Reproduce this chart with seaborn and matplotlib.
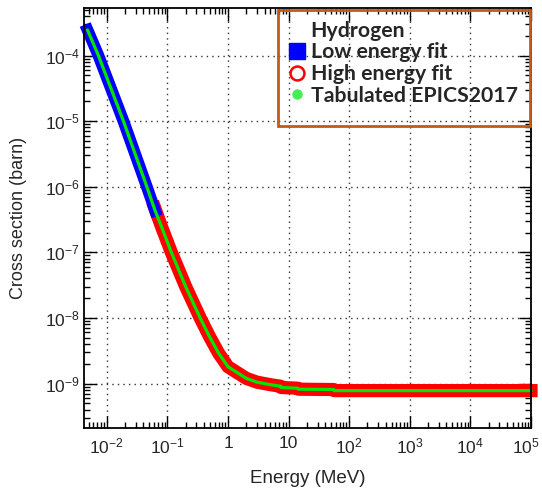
import numpy as np
import pandas as pd
import matplotlib
matplotlib.use('Agg')
import matplotlib.pyplot as plt
import seaborn as sns
from matplotlib.lines import Line2D
from matplotlib.patches import Rectangle
from matplotlib.transforms import ScaledTranslation
from matplotlib.ticker import FixedLocator, FixedFormatter, LogLocator, NullFormatter

# 低能拟合（蓝色方块）
low_energy = [4.8e-3, 7.26e-3, 0.0188, 0.0457, 0.0627]
low_xs = [2.45e-4, 1.0e-4, 1.0e-5, 1.0e-6, 4.3e-7]

# 高能拟合（红色空心圆）
high_energy = [0.062, 0.080, 0.116, 0.20, 0.347, 0.50, 0.70, 1.0, 2.0, 3.0,
               5.0, 7.4, 7.5, 14.0, 14.5, 56.0, 57.0, 1.0e5]
high_xs = [4.7e-7, 2.45e-7, 1.0e-7, 3.0e-8, 1.0e-8, 5.1e-9, 2.9e-9, 1.8e-9,
           1.2e-9, 1.05e-9, 9.6e-10, 9.1e-10, 8.7e-10, 8.5e-10, 8.2e-10,
           8.1e-10, 7.8e-10, 7.8e-10]

# 刻度标签
x_ticks = [1e-2, 1e-1, 1, 10, 1e2, 1e3, 1e4, 1e5]
x_ticklabels = ['$10^{-2}$', '$10^{-1}$', '1', '10', '$10^{2}$', '$10^{3}$', '$10^{4}$', '$10^{5}$']
y_ticks = [1e-9, 1e-8, 1e-7, 1e-6, 1e-5, 1e-4]
y_ticklabels = ['$10^{-9}$', '$10^{-8}$', '$10^{-7}$', '$10^{-6}$', '$10^{-5}$', '$10^{-4}$']

legend_labels = ['Hydrogen', 'Low energy fit', 'High energy fit', 'Tabulated EPICS2017']

low_df = pd.DataFrame({'E': low_energy, 'xs': low_xs})
high_df = pd.DataFrame({'E': high_energy, 'xs': high_xs})
tab_df = pd.concat([low_df, high_df.iloc[1:]], ignore_index=True)

sns.set_style('ticks')
plt.rcParams['font.family'] = ['Liberation Sans', 'DejaVu Sans']
plt.rcParams['mathtext.fontset'] = 'custom'
plt.rcParams['mathtext.rm'] = 'Liberation Sans'
plt.rcParams['mathtext.it'] = 'Liberation Sans:italic'
plt.rcParams['mathtext.bf'] = 'Liberation Sans:bold'

fig = plt.figure(figsize=(5.42, 4.91), dpi=100)
ax = fig.add_axes([84 / 542, 1 - 428 / 491, 447 / 542, 420 / 491])

# 先画红色，再画蓝色（重叠处蓝色在上），最后绿色
sns.lineplot(data=high_df, x='E', y='xs', ax=ax, sort=False, color='#ff0000',
             linewidth=9.5, solid_capstyle='projecting', clip_on=False)
sns.lineplot(data=low_df, x='E', y='xs', ax=ax, sort=False, color='#0000ff',
             linewidth=8.5, solid_capstyle='projecting', clip_on=False)
sns.lineplot(data=tab_df, x='E', y='xs', ax=ax, sort=False, color='#00e600',
             linewidth=2.3, clip_on=False)

ax.set_xscale('log')
ax.set_yscale('log')
ax.set_xlim(4.2e-3, 1e5)
ax.set_ylim(2.1e-10, 5.3e-4)

ax.xaxis.set_major_locator(FixedLocator(x_ticks))
ax.xaxis.set_major_formatter(FixedFormatter(x_ticklabels))
ax.yaxis.set_major_locator(FixedLocator(y_ticks))
ax.yaxis.set_major_formatter(FixedFormatter(y_ticklabels))
for axis in (ax.xaxis, ax.yaxis):
    axis.set_minor_locator(LogLocator(base=10, subs=np.arange(2, 10), numticks=30))
    axis.set_minor_formatter(NullFormatter())

ax.tick_params(which='both', direction='in', top=True, right=True, color='black', width=1)
ax.tick_params(which='major', length=9, labelsize=12.5)
ax.tick_params(which='minor', length=4.5)
ax.tick_params(axis='x', which='major', pad=6)
ax.tick_params(axis='y', which='major', pad=3)
for sp in ax.spines.values():
    sp.set_linewidth(1.3)
    sp.set_color('black')

ax.grid(True, which='major', color='#333333', linestyle=(0, (1, 3)), linewidth=1)

ax.set_xlabel('Energy (MeV)', fontsize=13.5, labelpad=10)
ax.set_ylabel('Cross section (barn)', fontsize=13, labelpad=13)

# 最右侧刻度标签稍向左移，避免被图边裁掉
fig.canvas.draw()
last = ax.xaxis.get_major_ticks()[-1].label1
last.set_transform(last.get_transform() + ScaledTranslation(-5 / 100, 0, fig.dpi_scale_trans))

handles = [
    Line2D([], [], linestyle='none'),
    Line2D([], [], linestyle='none', marker='s', markersize=11, color='#0000ff'),
    Line2D([], [], linestyle='none', marker='o', markersize=10, markerfacecolor='white',
           markeredgecolor='#ff0000', markeredgewidth=1.8),
    Line2D([], [], linestyle='none', marker='o', markersize=6.5, color='#44ee55'),
]
leg = ax.legend(handles, legend_labels, loc='upper left', bbox_to_anchor=(0.430, 1.0),
                frameon=False, handlelength=0.8, handletextpad=0.22, labelspacing=0.08,
                borderaxespad=0.2, prop={'family': 'Lato', 'weight': 'bold', 'size': 15.3})

ax.add_patch(Rectangle((278 / 542, 1 - 126 / 491), 252 / 542, 116 / 491,
                       transform=fig.transFigure, fill=False, edgecolor='#c55a11',
                       linewidth=2, clip_on=False, zorder=5))

fig.savefig('out.png', dpi=100)
